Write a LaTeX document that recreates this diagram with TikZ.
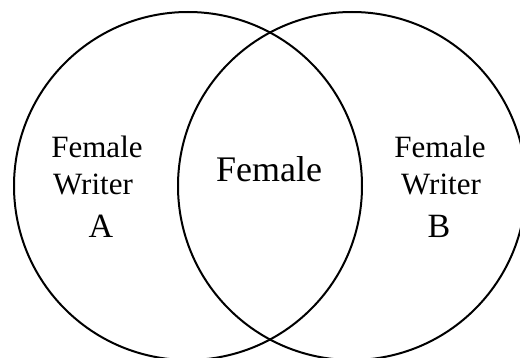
\documentclass[tikz,border=0pt]{standalone}
\usepackage{fontspec}
\setmainfont{Liberation Serif}
\usetikzlibrary{positioning}

\tikzset{
  ring/.style={circle, draw, line width=1pt, minimum size=174pt, inner sep=0pt},
  side/.style={anchor=base, inner sep=0pt, font=\fontsize{15.5}{18}\selectfont},
  mid/.style={anchor=base, inner sep=0pt, font=\fontsize{18}{21}\selectfont},
  letter/.style={anchor=base, inner sep=0pt, font=\fontsize{17}{20}\selectfont}
}

\begin{document}
\begin{tikzpicture}[x=0.5pt,y=-0.5pt]
    \useasboundingbox (0,0) rectangle (520,358);
    \node[ring] (circA) at (188,186) {};
    \node[ring] (circB) at (352,186) {};
    \node[side] (femA) at (97,158) {Female};
    \node[side] (wrtA) at (93,195) {Writer};
    \node[letter] (lblA) at (101,237) {A};
    \node[mid] (femAB) at (269,182) {Female};
    \node[side] (femB) at (440,158) {Female};
    \node[side] (wrtB) at (441,195) {Writer};
    \node[letter] (lblB) at (439,237) {B};
  \end{tikzpicture}
\end{document}
